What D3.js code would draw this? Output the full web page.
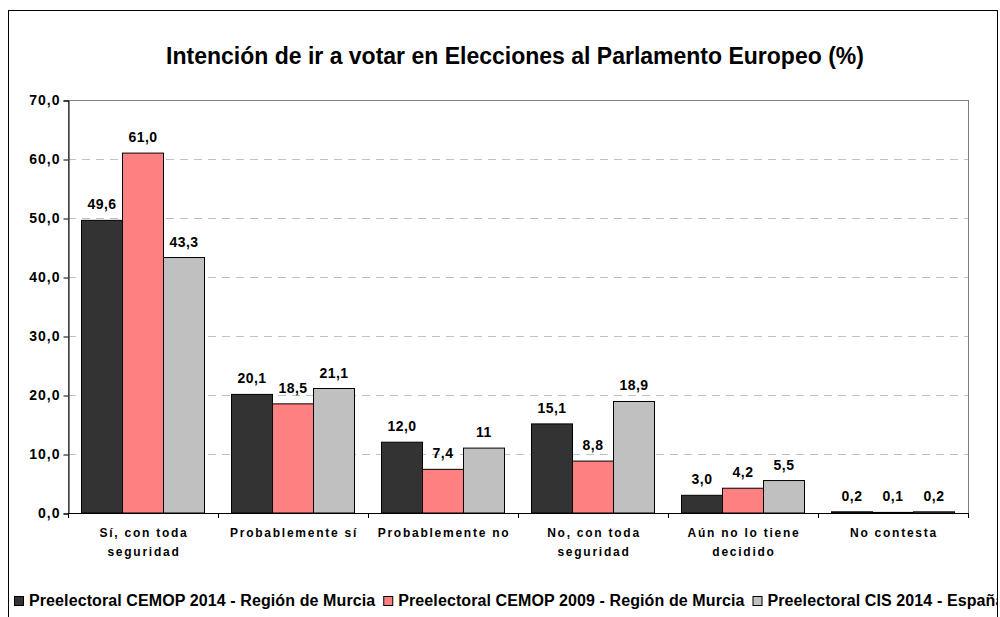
<!DOCTYPE html>
<html>
<head>
<meta charset="utf-8">
<script src="https://cdn.jsdelivr.net/npm/d3@7"></script>
<style>
    body { margin: 0; background: #fff; }
    text { font-family: "Liberation Sans", Arial, sans-serif; font-weight: bold; fill: #000; }
</style>
</head>
<body>
<div id="chartcontainer"></div>
<script>
// Chart data
var categories = [
    ["Sí, con toda", "seguridad"],
    ["Probablemente sí"],
    ["Probablemente no"],
    ["No, con toda", "seguridad"],
    ["Aún no lo tiene", "decidido"],
    ["No contesta"]
];
var seriesNames = [
    "Preelectoral CEMOP 2014 - Región de Murcia",
    "Preelectoral CEMOP 2009 - Región de Murcia",
    "Preelectoral CIS 2014 - España"
];
var cemop2014 = [49.6, 20.1, 12.0, 15.1, 3.0, 0.2];
var cemop2009 = [61.0, 18.5, 7.4, 8.8, 4.2, 0.1];
var cis2014 = [43.3, 21.1, 11, 18.9, 5.5, 0.2];
// labels as printed on the chart
var cemop2014Labels = ["49,6", "20,1", "12,0", "15,1", "3,0", "0,2"];
var cemop2009Labels = ["61,0", "18,5", "7,4", "8,8", "4,2", "0,1"];
var cis2014Labels = ["43,3", "21,1", "11", "18,9", "5,5", "0,2"];
var yTicks = [0, 10, 20, 30, 40, 50, 60, 70];
var seriesColors = ["#333333", "#ff8080", "#c0c0c0"];

var width = 1000, height = 617;
var plot = { left: 68, top: 100, right: 968, bottom: 513 };

var svg = d3.select("#chartcontainer").append("svg")
    .attr("width", width)
    .attr("height", height);

// clip everything to the chart border
svg.append("clipPath").attr("id", "chartclip")
    .append("rect")
    .attr("x", 9).attr("y", 11)
    .attr("width", 988).attr("height", 620);

// outer chart border
svg.append("rect")
    .attr("x", 8.5).attr("y", 10.5)
    .attr("width", 989).attr("height", 620)
    .attr("fill", "#fff")
    .attr("stroke", "#000");

svg.append("text")
    .attr("x", 515).attr("y", 64)
    .attr("text-anchor", "middle")
    .style("font-size", "23px")
    .text("Intención de ir a votar en Elecciones al Parlamento Europeo (%)");

var x = d3.scaleBand()
    .domain(d3.range(categories.length))
    .range([plot.left, plot.right])
    .paddingInner(0.18)
    .paddingOuter(0.09);

var xSub = d3.scaleBand()
    .domain(d3.range(seriesNames.length))
    .range([0, x.bandwidth()]);

var y = d3.scaleLinear()
    .domain([0, 70])
    .range([plot.bottom, plot.top]);

// plot area frame
svg.append("rect")
    .attr("x", plot.left + 0.5).attr("y", plot.top + 0.5)
    .attr("width", plot.right - plot.left).attr("height", plot.bottom - plot.top)
    .attr("fill", "none")
    .attr("stroke", "#808080");

// gridlines
svg.append("g").selectAll("line")
    .data(yTicks.filter(function (d) { return d > 0 && d < 70; }))
    .enter().append("line")
    .attr("x1", plot.left).attr("x2", plot.right)
    .attr("y1", function (d) { return Math.round(y(d)) + 0.5; })
    .attr("y2", function (d) { return Math.round(y(d)) + 0.5; })
    .attr("stroke", "#c0c0c0")
    .attr("stroke-dasharray", "8,6");

// y axis
var yAxis = d3.axisLeft(y)
    .tickValues(yTicks)
    .tickSize(5)
    .tickFormat(function (d) { return d3.format(".1f")(d).replace(".", ","); });

var yg = svg.append("g")
    .attr("transform", "translate(" + (plot.left + 0.5) + ",0.5)")
    .call(yAxis);
yg.select(".domain").attr("stroke", "#000");
yg.selectAll(".tick line").attr("stroke", "#000");
yg.selectAll(".tick text")
    .attr("x", -8)
    .style("font-size", "14px")
    .style("letter-spacing", "1px")
    .style("font-family", "'Liberation Sans', Arial, sans-serif")
    .attr("fill", "#000");

// x axis line and ticks between categories
var xg = svg.append("g");
xg.append("line")
    .attr("x1", plot.left).attr("x2", plot.right)
    .attr("y1", plot.bottom + 0.5).attr("y2", plot.bottom + 0.5)
    .attr("stroke", "#000");
xg.selectAll("line.tick")
    .data(d3.range(categories.length + 1))
    .enter().append("line")
    .attr("class", "tick")
    .attr("x1", function (d) { return Math.round(plot.left + d * x.step()) + 0.5; })
    .attr("x2", function (d) { return Math.round(plot.left + d * x.step()) + 0.5; })
    .attr("y1", plot.bottom).attr("y2", plot.bottom + 5)
    .attr("stroke", "#000");

var catLabels = xg.selectAll("text.cat")
    .data(categories)
    .enter().append("text")
    .attr("class", "cat")
    .attr("text-anchor", "middle")
    .style("font-size", "12px")
    .style("letter-spacing", "1.75px");
catLabels.each(function (lines, i) {
    var t = d3.select(this);
    lines.forEach(function (line, j) {
        t.append("tspan")
            .attr("x", x(i) + x.bandwidth() / 2 + 1)
            .attr("y", 537 + j * 19)
            .text(line);
    });
});

// bars
var series = [cemop2014, cemop2009, cis2014];
var seriesLabels = [cemop2014Labels, cemop2009Labels, cis2014Labels];

series.forEach(function (values, s) {
    var g = svg.append("g");
    g.selectAll("rect")
        .data(values)
        .enter().append("rect")
        .attr("x", function (d, i) { return x(i) + xSub(s); })
        .attr("y", function (d) { return y(d); })
        .attr("width", xSub.bandwidth())
        .attr("height", function (d) { return plot.bottom - y(d); })
        .attr("fill", seriesColors[s])
        .attr("stroke", "#000");

    g.selectAll("text")
        .data(values)
        .enter().append("text")
        .attr("x", function (d, i) { return x(i) + xSub(s) + xSub.bandwidth() / 2; })
        .attr("y", function (d) { return y(d) - 11; })
        .attr("text-anchor", "middle")
        .style("font-size", "14px")
        .style("letter-spacing", "0.5px")
        .text(function (d, i) { return seriesLabels[s][i]; });
});

// legend, items flow one after another and get clipped at the border
var legend = svg.append("g")
    .attr("clip-path", "url(#chartclip)")
    .append("g")
    .attr("transform", "translate(14,606)");
var legendX = 0;
seriesNames.forEach(function (name, s) {
    var item = legend.append("g").attr("transform", "translate(" + legendX + ",0)");
    item.append("rect")
        .attr("x", 0.5).attr("y", -9.5)
        .attr("width", 9).attr("height", 9)
        .attr("fill", seriesColors[s])
        .attr("stroke", "#000");
    var label = item.append("text")
        .attr("x", 15).attr("y", 0)
        .style("font-size", "16px")
        .style("letter-spacing", "0.1px")
        .text(name);
    legendX += 15 + label.node().getComputedTextLength() + 8;
});
</script>
</body>
</html>
